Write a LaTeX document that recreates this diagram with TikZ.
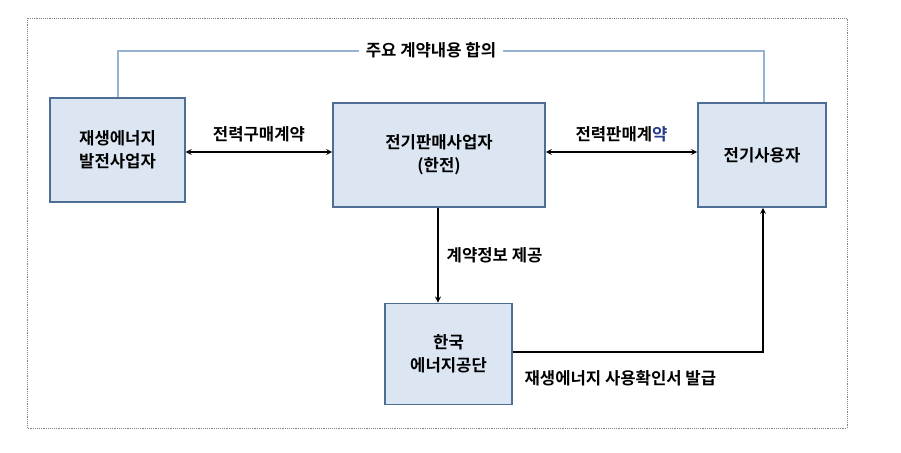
\documentclass[tikz,border=0pt]{standalone}
\usepackage{fontspec}
\setmainfont{Noto Sans CJK KR}[BoldFont={* Bold}]
\usetikzlibrary{positioning}
\definecolor{boxfill}{RGB}{220,230,242}
\definecolor{boxdraw}{RGB}{79,110,150}
\definecolor{agree}{RGB}{150,180,210}
\definecolor{blueword}{RGB}{40,60,140}
\tikzset{
  party/.style={draw=boxdraw,line width=1.2pt,fill=boxfill,align=center,font=\bfseries\fontsize{12.5}{17}\selectfont,inner sep=0pt},
  lbl/.style={font=\bfseries\fontsize{12.5}{15}\selectfont,inner sep=1pt},
  flow/.style={line width=1pt,-stealth},
}
\begin{document}
\begin{tikzpicture}[x=0.75pt,y=0.75pt,yscale=-1,xscale=1]
\useasboundingbox (0,0) rectangle (901,453);
%frame
\draw [densely dotted,gray] (27,18) rectangle (847,428);

%boxes
\node [party,minimum width=101pt,minimum height=78pt] (gen) at (117.5,150) {재생에너지\\발전사업자};
\node [party,minimum width=159pt,minimum height=78pt] (kepco) at (439,155) {전기판매사업자\\(한전)};
\node [party,minimum width=96pt,minimum height=78pt] (user) at (762,155) {전기사용자};
\node [party,minimum width=95pt,minimum height=76pt] (kea) at (448.5,354) {한국\\에너지공단};

%agreement line
\coordinate (ga) at (118,51);
\coordinate (ua) at (764,51);
\draw [agree,line width=1pt] (gen.north -| ga) -- (ga) -- (ua) -- (user.north -| ua);
\node [lbl,fill=white,inner sep=5pt] (agr) at (431,50) {주요 계약내용 합의};

%contracts
\draw [flow,stealth-stealth] (gen.east |- 0,152) -- node [lbl,above=6pt] (buy) {전력구매계약} (kepco.west |- 0,152);
\draw [flow,stealth-stealth] (kepco.east |- 0,152) -- node [lbl,above=6pt] (sell) {전력판매계\textcolor{blueword}{약}} (user.west |- 0,152);

%information and certificate
\coordinate (kx) at (438,0);
\draw [flow] (kepco.south -| kx) -- node [lbl,right=5pt] (info) {계약정보 제공} (kea.north -| kx);
\coordinate (turn) at (763,352);
\draw [flow] (kea.east |- turn) -- (turn) -- (user.south -| turn);
\node [lbl,anchor=west] (cert) at (523,378) {재생에너지 사용확인서 발급};
\end{tikzpicture}
\end{document}
